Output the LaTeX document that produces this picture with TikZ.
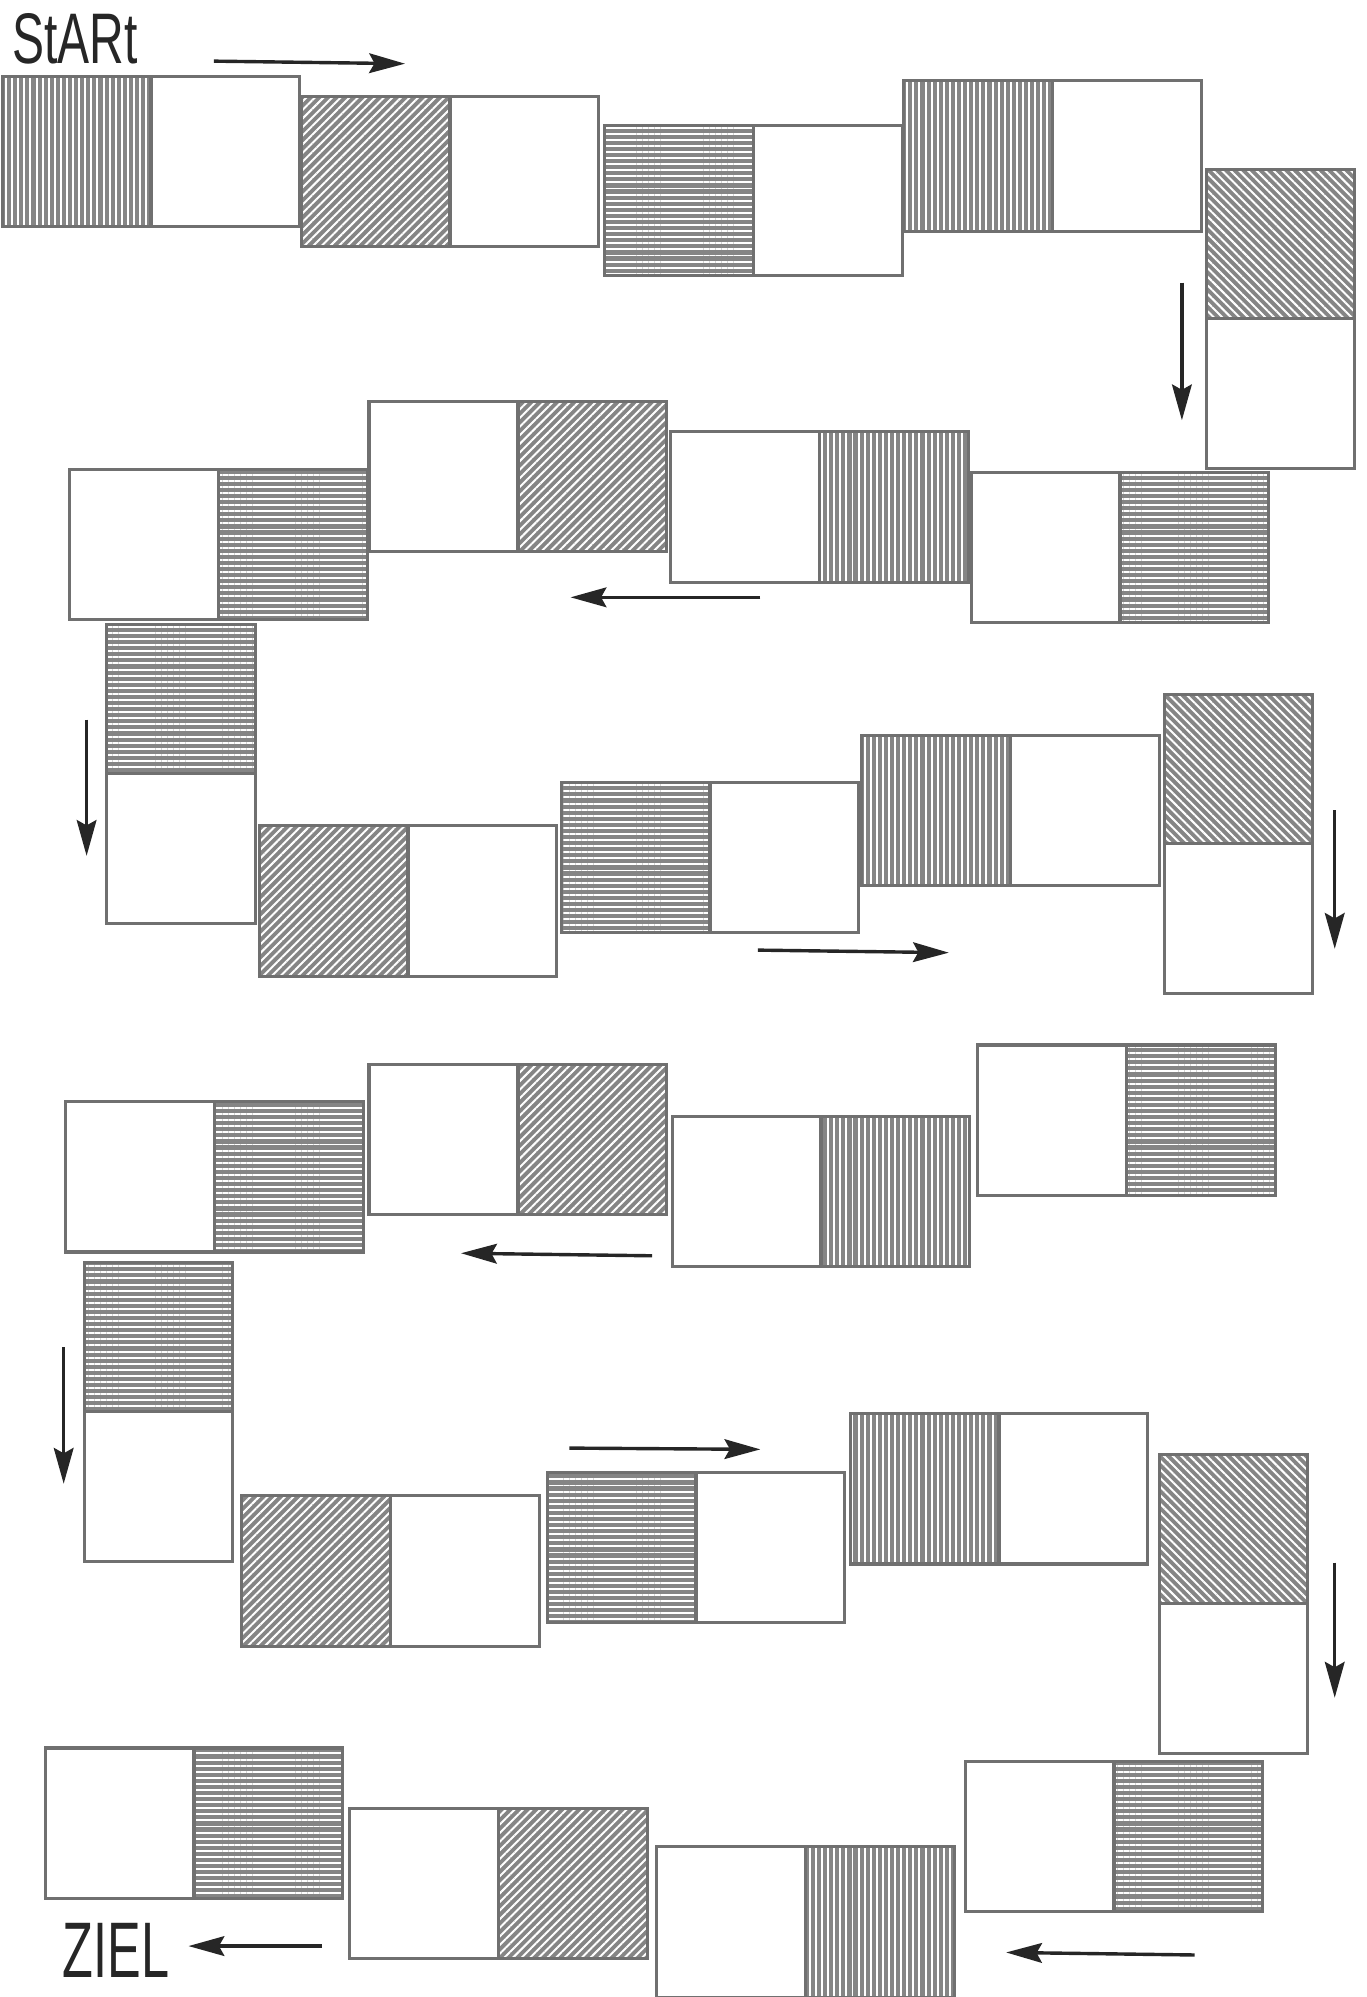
\documentclass[tikz,border=0pt]{standalone}
\usepackage{fontspec}
\setmainfont{Liberation Sans}
\usetikzlibrary{patterns.meta,arrows.meta}
\definecolor{edgegray}{HTML}{707070}
\definecolor{hatchgray}{HTML}{858585}
\tikzset{
  sq/.style={draw=edgegray,line width=1.7pt,fill=white,inner sep=0pt,outer sep=0pt,
    minimum width=2.9125cm,minimum height=2.95cm,rectangle},
  hatchbase/.style={preaction={fill=hatchgray},pattern color=white},
  hv/.style={hatchbase,pattern={Lines[angle=90,distance=3.4pt,line width=1.1pt]}},
  hh/.style={hatchbase,pattern={Lines[angle=0,distance=3.4pt,line width=1.1pt]}},
  hne/.style={hatchbase,pattern={Lines[angle=45,distance=3.4pt,line width=1.1pt]}},
  hnw/.style={hatchbase,pattern={Lines[angle=-45,distance=3.4pt,line width=1.1pt]}},
  arr/.style={draw=black!85,line width=1.9pt,-{Stealth[length=20pt,width=11pt,inset=3pt]}},
  lbl/.style={inner sep=0pt,font=\fontsize{40}{40}\selectfont,text=black!85}
}
\begin{document}
\begin{tikzpicture}[x=0.025cm,y=-0.025cm]
\useasboundingbox (0,0) rectangle (1073,1568);
% Row 1
\node[sq,hv]  (d1a) at (60,119) {};
\node[sq]     (d1b) at (177,119) {};
\node[sq,hne] (d2a) at (295,134.5) {};
\node[sq]     (d2b) at (412,134.5) {};
\node[sq,hh]  (d3a) at (533,157.5) {};
\node[sq]     (d3b) at (650,157.5) {};
\node[sq,hv]  (d4a) at (768,122.5) {};
\node[sq]     (d4b) at (885,122.5) {};
\node[sq,hnw] (d5a) at (1005.5,192) {};
\node[sq]     (d5b) at (1005.5,309) {};
% Row 2
\node[sq]     (d6a) at (821,430) {};
\node[sq,hh]  (d6b) at (938,430) {};
\node[sq]     (d7a) at (585,398) {};
\node[sq,hv]  (d7b) at (702,398) {};
\node[sq]     (d8a) at (348,374) {};
\node[sq,hne] (d8b) at (465,374) {};
\node[sq]     (d9a) at (113,427.5) {};
\node[sq,hh]  (d9b) at (230,427.5) {};
\node[sq,hh]  (d10a) at (142,549) {};
\node[sq]     (d10b) at (142,666) {};
% Row 3
\node[sq,hne] (d11a) at (262,707.5) {};
\node[sq]     (d11b) at (379,707.5) {};
\node[sq,hh]  (d12a) at (499,673.5) {};
\node[sq]     (d12b) at (616,673.5) {};
\node[sq,hv]  (d13a) at (735,636.5) {};
\node[sq]     (d13b) at (852,636.5) {};
\node[sq,hnw] (d14a) at (972.5,604) {};
\node[sq]     (d14b) at (972.5,721) {};
% Row 4
\node[sq]     (d15a) at (826,879.5) {};
\node[sq,hh]  (d15b) at (943,879.5) {};
\node[sq]     (d16a) at (586,935.5) {};
\node[sq,hv]  (d16b) at (703,935.5) {};
\node[sq]     (d17a) at (348,894.5) {};
\node[sq,hne] (d17b) at (465,894.5) {};
\node[sq]     (d18a) at (110,924) {};
\node[sq,hh]  (d18b) at (227,924) {};
\node[sq,hh]  (d19a) at (124.5,1050) {};
\node[sq]     (d19b) at (124.5,1167) {};
% Row 5
\node[sq,hne] (d20a) at (248,1233.5) {};
\node[sq]     (d20b) at (365,1233.5) {};
\node[sq,hh]  (d21a) at (488,1215) {};
\node[sq]     (d21b) at (605,1215) {};
\node[sq,hv]  (d22a) at (726,1169) {};
\node[sq]     (d22b) at (843,1169) {};
\node[sq,hnw] (d23a) at (968.5,1201) {};
\node[sq]     (d23b) at (968.5,1318) {};
% Row 6
\node[sq]     (d24a) at (816,1442) {};
\node[sq,hh]  (d24b) at (933,1442) {};
\node[sq]     (d25a) at (574,1509) {};
\node[sq,hv]  (d25b) at (691,1509) {};
\node[sq]     (d26a) at (333,1479) {};
\node[sq,hne] (d26b) at (450,1479) {};
\node[sq]     (d27a) at (94,1431.5) {};
\node[sq,hh]  (d27b) at (211,1431.5) {};
% Labels
\node[lbl,anchor=base] (start) at (59,50) {\scalebox{0.67}[1]{StARt}};
\node[lbl,anchor=base,font=\fontsize{44}{44}\selectfont] (ziel) at (91,1553) {\scalebox{0.64}[1]{ZIEL}};
% Arrows
\coordinate (a1s) at (168,48);   \coordinate (a1e) at (318,50);
\coordinate (a2s) at (928,222);  \coordinate (a2e) at (928,330);
\coordinate (a3s) at (597,469);  \coordinate (a3e) at (448,469);
\coordinate (a4s) at (68,565);   \coordinate (a4e) at (68,672);
\coordinate (a5s) at (595,746);  \coordinate (a5e) at (745,748);
\coordinate (a6s) at (1048,636); \coordinate (a6e) at (1048,745);
\coordinate (a7s) at (512,986);  \coordinate (a7e) at (362,984);
\coordinate (a8s) at (50,1058);  \coordinate (a8e) at (50,1165);
\coordinate (a9s) at (447,1137); \coordinate (a9e) at (597,1138);
\coordinate (a10s) at (1048,1227); \coordinate (a10e) at (1048,1333);
\coordinate (a11s) at (938,1535); \coordinate (a11e) at (790,1533);
\coordinate (a12s) at (253,1528); \coordinate (a12e) at (148,1528);
\draw[arr] (a1s) -- (a1e);
\draw[arr] (a2s) -- (a2e);
\draw[arr] (a3s) -- (a3e);
\draw[arr] (a4s) -- (a4e);
\draw[arr] (a5s) -- (a5e);
\draw[arr] (a6s) -- (a6e);
\draw[arr] (a7s) -- (a7e);
\draw[arr] (a8s) -- (a8e);
\draw[arr] (a9s) -- (a9e);
\draw[arr] (a10s) -- (a10e);
\draw[arr] (a11s) -- (a11e);
\draw[arr] (a12s) -- (a12e);
\end{tikzpicture}
\end{document}
